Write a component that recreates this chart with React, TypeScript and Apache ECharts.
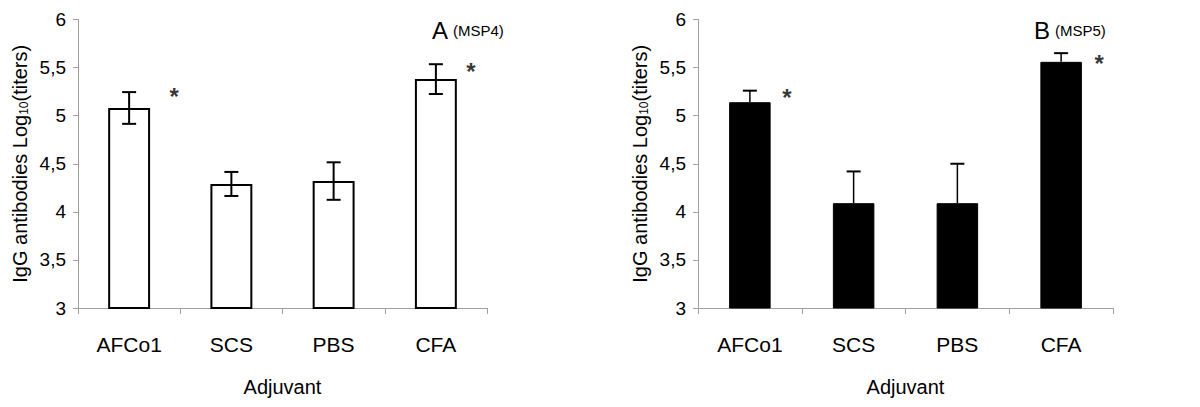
import React, { useEffect, useRef } from "react";
import * as echarts from "echarts";

const categories = ["AFCo1", "SCS", "PBS", "CFA"];
const msp4Mean = [5.08, 4.29, 4.32, 5.38];
const msp4Err = [0.165, 0.125, 0.195, 0.155];
const msp4Star = [5.2, null, null, 5.46];
const msp5Mean = [5.14, 4.09, 4.09, 5.56];
const msp5Err = [0.12, 0.33, 0.41, 0.09];
const msp5Star = [5.19, null, null, 5.54];
const yTicks = [3, 3.5, 4, 4.5, 5, 5.5, 6];

const FONT = "'Liberation Sans', Arial, Helvetica, sans-serif";
const AXIS_GRAY = "#a0a0a0";

function errorRenderer(both: boolean, lw: number) {
  return (params: any, api: any) => {
    const x = api.value(0);
    const mean = api.value(1);
    const err = api.value(2);
    const top = api.coord([x, mean + err]);
    const bot = api.coord(both ? [x, mean - err] : [x, mean]);
    const half = 7;
    const children: any[] = [
      { type: "line", shape: { x1: top[0], y1: top[1], x2: bot[0], y2: bot[1] }, style: { stroke: "#000", lineWidth: lw } },
      { type: "line", shape: { x1: top[0] - half, y1: top[1], x2: top[0] + half, y2: top[1] }, style: { stroke: "#000", lineWidth: 2 } },
    ];
    if (both) {
      children.push({ type: "line", shape: { x1: bot[0] - half, y1: bot[1], x2: bot[0] + half, y2: bot[1] }, style: { stroke: "#000", lineWidth: 2 } });
    }
    return { type: "group", children };
  };
}

export default function App() {
  const ref = useRef<HTMLDivElement>(null);
  useEffect(() => {
    if (!ref.current) return;
    const chart = echarts.init(ref.current, null, { renderer: "svg" });
    const grids = [
      { left: 78, right: 713, top: 19.5, bottom: 99 },
      { left: 698, right: 87, top: 19.5, bottom: 99 },
    ];
    const xAxis = [0, 1].map((i) => ({
      type: "category",
      gridIndex: i,
      data: categories,
      name: "Adjuvant",
      nameLocation: "middle",
      nameGap: 69,
      nameTextStyle: { fontFamily: FONT, fontSize: 20, color: "#000" },
      axisLine: { lineStyle: { color: AXIS_GRAY, width: 1 } },
      axisTick: { show: true, length: 6, lineStyle: { color: AXIS_GRAY } },
      axisLabel: { fontFamily: FONT, fontSize: 21, color: "#000", margin: 26 },
    }));
    const yAxis = [0, 1].map((i) => ({
      type: "value",
      gridIndex: i,
      min: 3,
      max: 6,
      interval: 0.5,
      splitLine: { show: false },
      name: "{n|IgG antibodies Log}{s|10}{n|(titers)}",
      nameLocation: "middle",
      nameRotate: 90,
      nameGap: 48,
      nameTextStyle: {
        rich: {
          n: { fontFamily: FONT, fontSize: 20, color: "#000" },
          s: { fontFamily: FONT, fontSize: 12, color: "#000", verticalAlign: "bottom", padding: [8, 0, 0, 0] },
        },
      },
      axisLine: { show: true, lineStyle: { color: AXIS_GRAY, width: 1 } },
      axisTick: { show: true, length: 5, lineStyle: { color: AXIS_GRAY } },
      axisLabel: {
        fontFamily: FONT,
        fontSize: 19,
        color: "#000",
        margin: 12,
        formatter: (v: number) => (yTicks.includes(v) ? String(v).replace(".", ",") : ""),
      },
    }));
    const starSeries = (stars: (number | null)[], idx: number, offsets: number[]) => ({
      type: "scatter",
      xAxisIndex: idx,
      yAxisIndex: idx,
      symbolSize: 0,
      silent: true,
      data: stars
        .map((v, i) => (v == null ? null : { value: [categories[i], v], label: { offset: [offsets[i], 0] } }))
        .filter((d) => d != null),
      label: {
        show: true,
        formatter: "*",
        position: "inside",
        fontFamily: FONT,
        fontSize: 24,
        fontWeight: "bold",
        color: "#000",
      },
    });
    const titleRich = {
      b: { fontFamily: FONT, fontSize: 24, fontWeight: "normal", color: "#000" },
      s: { fontFamily: FONT, fontSize: 15, fontWeight: "normal", color: "#000" },
    };
    chart.setOption({
      animation: false,
      title: [
        { text: "{b|A} {s|(MSP4)}", left: 427, top: 13, textStyle: { fontWeight: "normal", rich: titleRich } },
        { text: "{b|B} {s|(MSP5)}", left: 1029, top: 13, textStyle: { fontWeight: "normal", rich: titleRich } },
      ],
      grid: grids,
      xAxis,
      yAxis,
      series: [
        {
          type: "bar",
          xAxisIndex: 0,
          yAxisIndex: 0,
          data: msp4Mean,
          barWidth: "41%",
          itemStyle: { color: "#fff", borderColor: "#000", borderWidth: 2 },
        },
        {
          type: "custom",
          xAxisIndex: 0,
          yAxisIndex: 0,
          renderItem: errorRenderer(true, 2),
          data: msp4Mean.map((m, i) => [i, m, msp4Err[i]]),
          z: 10,
        },
        starSeries(msp4Star, 0, [45, 0, 0, 35]),
        {
          type: "bar",
          xAxisIndex: 1,
          yAxisIndex: 1,
          data: msp5Mean,
          barWidth: "40%",
          itemStyle: { color: "#000", borderColor: "#000", borderWidth: 1 },
        },
        {
          type: "custom",
          xAxisIndex: 1,
          yAxisIndex: 1,
          renderItem: errorRenderer(false, 1.5),
          data: msp5Mean.map((m, i) => [i, m, msp5Err[i]]),
          z: 1,
        },
        starSeries(msp5Star, 1, [37, 0, 0, 38]),
      ],
    });
    return () => chart.dispose();
  }, []);
  return <div ref={ref} style={{ width: 1200, height: 407, position: "absolute", left: 0, top: 0, background: "#fff" }} />;
}
